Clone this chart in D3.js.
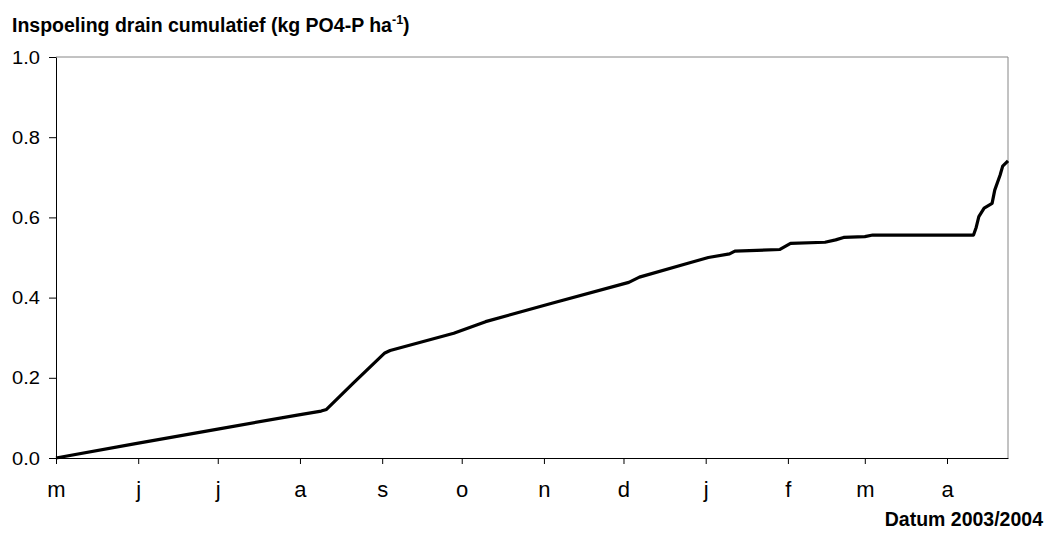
<!DOCTYPE html>
<html>
<head>
<meta charset="utf-8">
<script src="https://cdn.jsdelivr.net/npm/d3@7"></script>
<style>
  html, body { margin: 0; padding: 0; background: #fff; }
  svg { display: block; font-family: "Liberation Sans", Arial, sans-serif; }
</style>
</head>
<body>
<svg id="chart" width="1049" height="537"></svg>
<script>
// Cumulative drain leaching of PO4-P, May 2003 - April 2004
const obsDates = [
  "2003-05-01", "2003-05-31", "2003-07-01", "2003-07-31", "2003-08-09",
  "2003-08-11", "2003-08-21", "2003-09-02", "2003-09-04", "2003-09-28",
  "2003-10-10", "2003-11-04", "2003-12-03", "2003-12-07", "2003-12-26",
  "2004-01-02", "2004-01-10", "2004-01-12", "2004-01-29", "2004-02-02",
  "2004-02-15", "2004-02-19", "2004-02-22", "2004-03-01", "2004-03-04",
  "2004-04-11", "2004-04-12", "2004-04-13", "2004-04-15", "2004-04-18",
  "2004-04-19", "2004-04-21", "2004-04-22", "2004-04-24"
];
const cumulativeP = [
  0.000, 0.036, 0.072, 0.107, 0.117,
  0.121, 0.186, 0.262, 0.268, 0.311,
  0.340, 0.386, 0.438, 0.451, 0.487,
  0.500, 0.509, 0.516, 0.520, 0.535,
  0.538, 0.544, 0.550, 0.552, 0.556,
  0.556, 0.575, 0.602, 0.623, 0.635,
  0.668, 0.705, 0.728, 0.741
];
const monthLabels = ["m", "j", "j", "a", "s", "o", "n", "d", "j", "f", "m", "a"];
const yTickValues = [0, 0.2, 0.4, 0.6, 0.8, 1.0];

const parse = d3.timeParse("%Y-%m-%d");
const series = obsDates.map((d, i) => ({ date: parse(d), value: cumulativeP[i] }));

const svg = d3.select("#chart");
const plotLeft = 56, plotRight = 1008, plotTop = 57, plotBottom = 458;

const x = d3.scaleTime()
  .domain([parse("2003-05-01"), parse("2004-04-24")])
  .range([plotLeft, plotRight]);
const y = d3.scaleLinear().domain([0, 1]).range([plotBottom, plotTop]);

const monthStarts = d3.timeMonth.range(parse("2003-05-01"), parse("2004-04-24"));

// plot frame: grey top and right border
svg.append("line").attr("x1", plotLeft).attr("x2", plotRight).attr("y1", plotTop).attr("y2", plotTop)
  .attr("stroke", "#868686").attr("stroke-width", 1);
svg.append("line").attr("x1", plotRight).attr("x2", plotRight).attr("y1", plotTop).attr("y2", plotBottom)
  .attr("stroke", "#868686").attr("stroke-width", 1);

// y axis
const yAxis = svg.append("g")
  .attr("transform", `translate(${plotLeft},0)`)
  .call(d3.axisLeft(y).tickValues(yTickValues).tickFormat(d3.format(".1f"))
    .tickSize(7).tickSizeOuter(0));
yAxis.select(".domain").attr("stroke", "#000");
yAxis.selectAll(".tick line").attr("stroke", "#000");
yAxis.selectAll("text")
  .attr("x", -16)
  .attr("dy", "0.34em")
  .attr("font-family", "'Liberation Sans', Arial, sans-serif")
  .attr("font-size", 18)
  .attr("fill", "#000")
  .attr("textLength", 28)
  .attr("lengthAdjust", "spacingAndGlyphs");

// x axis with month initials
const xAxis = svg.append("g")
  .attr("transform", `translate(0,${plotBottom})`)
  .call(d3.axisBottom(x).tickValues(monthStarts).tickFormat((d, i) => monthLabels[i])
    .tickSize(6).tickSizeOuter(0));
xAxis.select(".domain").attr("stroke", "#000");
xAxis.selectAll(".tick line").attr("stroke", "#000");
xAxis.selectAll("text")
  .attr("y", 39)
  .attr("dy", 0)
  .attr("font-family", "'Liberation Sans', Arial, sans-serif")
  .attr("font-size", 22)
  .attr("fill", "#000");

// cumulative line
const line = d3.line().x(d => x(d.date)).y(d => y(d.value));
svg.append("path")
  .datum(series)
  .attr("d", line)
  .attr("fill", "none")
  .attr("stroke", "#000")
  .attr("stroke-width", 3.2)
  .attr("stroke-linejoin", "round");

// axis titles
const title = svg.append("text")
  .attr("x", 12).attr("y", 32)
  .attr("font-size", 19.5).attr("font-weight", "bold").attr("fill", "#000");
title.append("tspan").text("Inspoeling drain cumulatief (kg PO4-P ha");
title.append("tspan").attr("font-size", 12.5).attr("dy", -8).text("-1");
title.append("tspan").attr("dy", 8).text(")");

svg.append("text")
  .attr("x", 1043).attr("y", 526)
  .attr("text-anchor", "end")
  .attr("font-size", 19.5).attr("font-weight", "bold").attr("fill", "#000")
  .text("Datum 2003/2004");
</script>
</body>
</html>
